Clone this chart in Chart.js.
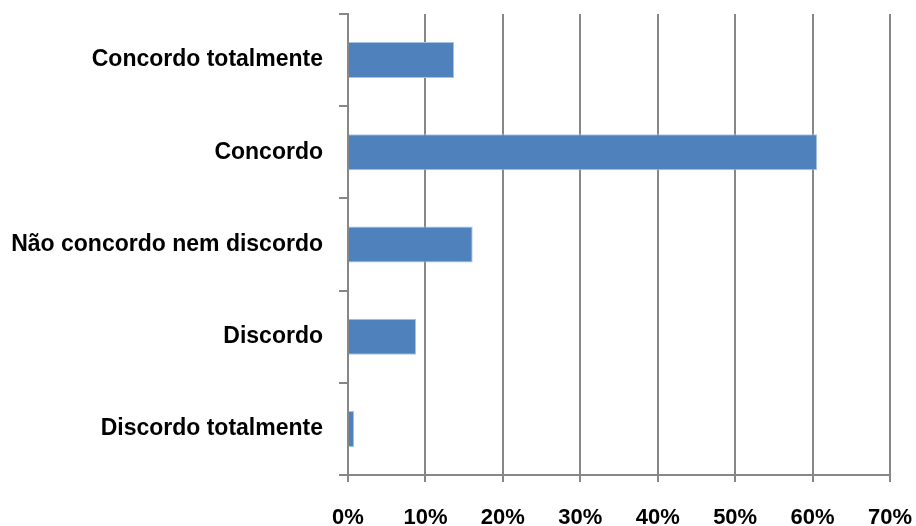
<!DOCTYPE html>
<html>
<head>
<meta charset="utf-8">
<title>Concordância</title>
<script src="https://cdn.jsdelivr.net/npm/chart.js@4/dist/chart.umd.min.js"></script>
<style>
  html, body { margin: 0; padding: 0; background: #fff; }
  canvas { display: block; }
</style>
</head>
<body>
<canvas id="chart" width="916" height="526"></canvas>
<script>
// respostas (percentagem)
const categorias = [
  "Concordo totalmente",
  "Concordo",
  "Não concordo nem discordo",
  "Discordo",
  "Discordo totalmente",
];
const percentagens = [13.7, 60.6, 16.1, 8.8, 0.8];
const eixoX = { min: 0, max: 70, passo: 10 };

const cinza = "#878787";

const config = {
  type: "bar",
  data: {
    labels: categorias,
    datasets: [
      {
        data: percentagens,
        backgroundColor: "#4f81bd",
        borderColor: "#a9c3e3",
        borderWidth: 1,
        borderSkipped: "start",
        barPercentage: 0.39,
        categoryPercentage: 1,
      },
    ],
  },
  options: {
    indexAxis: "y",
    responsive: false,
    animation: false,
    layout: { padding: { top: 14, right: 26, left: 0, bottom: 0 } },
    plugins: {
      legend: { display: false },
      tooltip: { enabled: false },
    },
    scales: {
      x: {
        min: eixoX.min,
        max: eixoX.max,
        ticks: {
          stepSize: eixoX.passo,
          callback: (v) => v + "%",
          color: "#000",
          padding: 23,
          font: { family: "'Liberation Sans', Arial, sans-serif", size: 22, weight: "bold" },
        },
        grid: { color: cinza, lineWidth: 2, tickLength: 7 },
        border: { color: cinza, width: 2 },
        afterFit: (scale) => {
          scale.height = 51;
          scale.paddingLeft = 0;
          scale.paddingRight = 0;
        },
      },
      y: {
        ticks: {
          color: "#000",
          padding: 16,
          font: { family: "'Liberation Sans', Arial, sans-serif", size: 23, weight: "bold" },
        },
        grid: { drawOnChartArea: false, color: cinza, lineWidth: 2, tickLength: 9 },
        border: { color: cinza, width: 2 },
        afterFit: (scale) => {
          scale.width = 348;
          scale.paddingTop = 0;
          scale.paddingBottom = 0;
        },
      },
    },
  },
};

new Chart(document.getElementById("chart"), config);
</script>
</body>
</html>
